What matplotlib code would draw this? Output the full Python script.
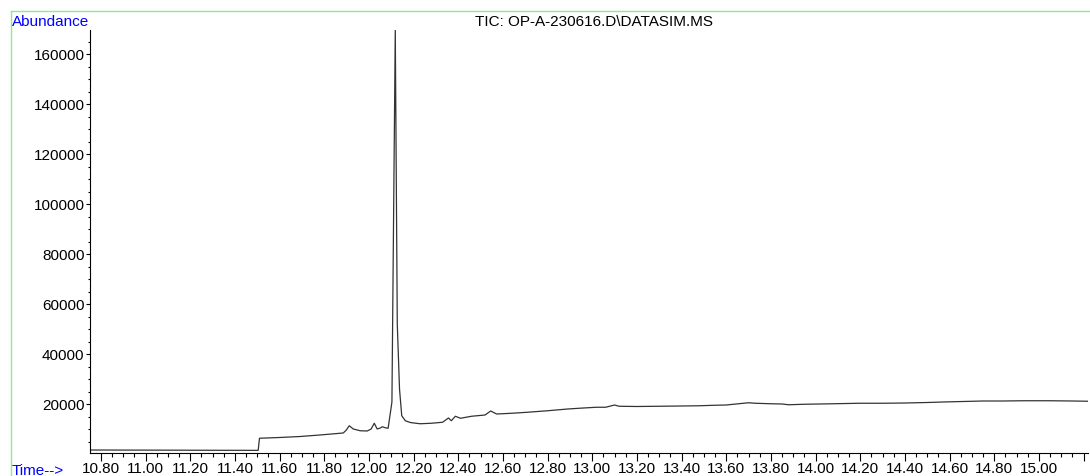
import matplotlib
matplotlib.use("Agg")
import matplotlib.pyplot as plt
from matplotlib.ticker import MultipleLocator, FixedLocator, FixedFormatter
from matplotlib.lines import Line2D

plt.rcParams['font.family'] = ['Liberation Sans', 'DejaVu Sans']

# retention time (min) and TIC abundance
time = [10.751, 10.85, 10.95, 11.02, 11.12, 11.244, 11.35, 11.44, 11.504,
        11.510, 11.60, 11.692, 11.78, 11.885, 11.898, 11.912, 11.930, 11.961,
        11.992, 12.010, 12.024, 12.037, 12.051, 12.060, 12.073, 12.086,
        12.103, 12.118, 12.127, 12.137, 12.147, 12.163, 12.185, 12.21, 12.23,
        12.28, 12.33, 12.356, 12.369, 12.387, 12.41, 12.46, 12.52, 12.545,
        12.572, 12.64, 12.71, 12.80, 12.89, 12.96, 13.02, 13.06, 13.10, 13.12,
        13.20, 13.30, 13.40, 13.48, 13.55, 13.60, 13.70, 13.73, 13.80, 13.85,
        13.88, 13.95, 14.08, 14.20, 14.30, 14.40, 14.50, 14.57, 14.66, 14.75,
        14.84, 14.93, 15.05, 15.15, 15.22]
abundance = [1600, 1580, 1560, 1550, 1530, 1500, 1480, 1470, 1450,
             6300, 6600, 7000, 7600, 8400, 9500, 11300, 10000, 9300,
             9200, 10000, 12300, 10000, 10400, 10900, 10500, 10300,
             20800, 169600, 52000, 26000, 15300, 13300, 12600, 12300, 12100,
             12300, 12700, 14400, 13300, 15100, 14300, 15100, 15600, 17200,
             16000, 16300, 16700, 17300, 18000, 18400, 18700, 18700, 19600, 19100,
             19000, 19100, 19200, 19300, 19500, 19600, 20500, 20300, 20100, 20000,
             19700, 19900, 20100, 20300, 20300, 20400, 20600, 20800, 21000, 21200,
             21200, 21300, 21300, 21200, 21100]

xticks = [10.8, 11.0, 11.2, 11.4, 11.6, 11.8, 12.0, 12.2, 12.4, 12.6, 12.8,
          13.0, 13.2, 13.4, 13.6, 13.8, 14.0, 14.2, 14.4, 14.6, 14.8, 15.0, 15.2]
xlabels = ["10.80", "11.00", "11.20", "11.40", "11.60", "11.80", "12.00",
           "12.20", "12.40", "12.60", "12.80", "13.00", "13.20", "13.40",
           "13.60", "13.80", "14.00", "14.20", "14.40", "14.60", "14.80",
           "15.00", ""]
yticks = [20000, 40000, 60000, 80000, 100000, 120000, 140000, 160000]

fig = plt.figure(figsize=(10.9, 4.77), dpi=100)
ax = fig.add_axes([90 / 1090, 23 / 477, 998 / 1090, 423 / 477])

ax.plot(time, abundance, color="#333333", lw=0.9)

ax.set_xlim(10.751, 15.22)
ax.set_ylim(400, 169600)

ax.xaxis.set_major_locator(FixedLocator(xticks))
ax.xaxis.set_major_formatter(FixedFormatter(xlabels))
ax.xaxis.set_minor_locator(MultipleLocator(0.05))
ax.yaxis.set_major_locator(FixedLocator(yticks))
ax.yaxis.set_minor_locator(MultipleLocator(5000))

ax.tick_params(axis="x", which="major", length=5.5, width=0.8, pad=0.5, labelsize=11)
ax.tick_params(axis="x", which="minor", length=3, width=0.8)
ax.tick_params(axis="y", which="major", length=3, width=0.8, pad=1, labelsize=11)
ax.tick_params(axis="y", which="minor", length=1.5, width=0.8)

for s in ["top", "right"]:
    ax.spines[s].set_visible(False)
for s in ["left", "bottom"]:
    ax.spines[s].set_linewidth(0.8)

# green frame
fig.add_artist(Line2D([11 / 1090, 1.0], [1 - 12 / 477, 1 - 12 / 477],
                      transform=fig.transFigure, color="#88ee88", lw=1))
fig.add_artist(Line2D([11 / 1090, 11 / 1090], [0, 1 - 12 / 477],
                      transform=fig.transFigure, color="#88ee88", lw=1))

fig.text(12 / 1090, 1 - 22 / 477, "Abundance", color="#0000ff", fontsize=11,
         ha="left", va="center")
fig.text(594 / 1090, 1 - 22 / 477, "TIC: OP-A-230616.D\\DATASIM.MS",
         color="black", fontsize=11, ha="center", va="center")
fig.text(12 / 1090, 1 - 475 / 477, "Time-->", color="#0000ff", fontsize=11,
         ha="left", va="baseline")

fig.savefig("out.png", dpi=100)
